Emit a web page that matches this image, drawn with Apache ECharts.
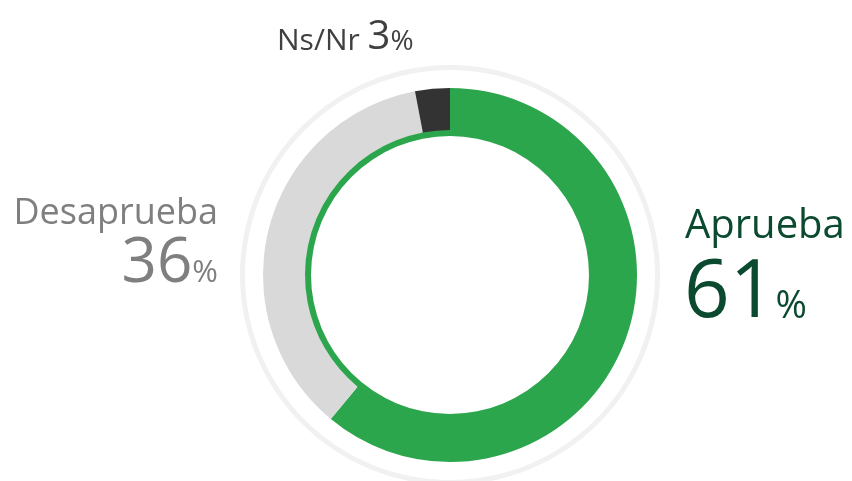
<!DOCTYPE html>
<html lang="es">
<head>
    <meta charset="UTF-8">
    <title>Aprobación</title>
    <script src="https://cdn.jsdelivr.net/npm/echarts@6/dist/echarts.min.js"></script>
    <style>
        html, body { margin: 0; padding: 0; background: #fff; }
        #chart { width: 852px; height: 481px; }
    </style>
</head>
<body>
    <div id="chart"></div>
    <script>
        // datos
        const categories = ['Aprueba', 'Desaprueba', 'Ns/Nr'];
        const values = [61, 36, 3];
        const sliceColors = ['#2ca64c', '#d9d9d9', '#333333'];
        const labelColors = ['#0b4a2f', '#7f7f7f', '#404040'];

        const FONT = '"Open Sans", sans-serif';
        const chart = echarts.init(document.getElementById('chart'));

        // texto con número grande y % pequeño (alineados por la base)
        function pctText(i, x, y, align, big, small, name, nameSize) {
            const k = 0.2;
            const rich = {
                n: { fontSize: nameSize || 10, fontFamily: FONT, fill: labelColors[i], verticalAlign: 'bottom', padding: [0, 0, Math.round((big - (nameSize || 10)) * k), 0] },
                v: { fontSize: big, fontFamily: FONT, fill: labelColors[i], verticalAlign: 'bottom' },
                p: { fontSize: small, fontFamily: FONT, fill: labelColors[i], verticalAlign: 'bottom', padding: [0, 0, Math.round((big - small) * k), 0] }
            };
            let txt = '{v|' + values[i] + '}{p|%}';
            if (name) txt = '{n|' + name + ' }' + txt;
            return {
                type: 'text', x: x, y: y,
                style: { text: txt, rich: rich, align: align, verticalAlign: 'bottom' }
            };
        }

        const option = {
            animation: false,
            series: [
                {
                    // anillo exterior gris claro
                    type: 'pie', silent: true, center: [450, 275], radius: [205, 210],
                    label: { show: false }, labelLine: { show: false },
                    data: [{ value: 1, itemStyle: { color: '#f1f1f1' } }]
                },
                {
                    // anillo interior verde fino
                    type: 'pie', silent: true, center: [450, 275], radius: [139, 146],
                    label: { show: false }, labelLine: { show: false },
                    data: [{ value: 1, itemStyle: { color: sliceColors[0] } }]
                },
                {
                    type: 'pie', center: [450, 275], radius: [145, 187],
                    startAngle: 90, clockwise: true,
                    label: { show: false }, labelLine: { show: false },
                    itemStyle: { borderWidth: 0 },
                    data: categories.map((c, i) => ({ name: c, value: values[i], itemStyle: { color: sliceColors[i] } }))
                }
            ],
            graphic: [
                { type: 'text', x: 685, y: 247, style: { text: categories[0], fontSize: 40, fontFamily: FONT, fill: labelColors[0], align: 'left', verticalAlign: 'bottom' } },
                pctText(0, 684, 334, 'left', 80, 38),
                { type: 'text', x: 218, y: 232, style: { text: categories[1], fontSize: 36, fontFamily: FONT, fill: labelColors[1], align: 'right', verticalAlign: 'bottom' } },
                pctText(1, 218, 295, 'right', 62, 31),
                pctText(2, 277, 58, 'left', 40, 28, categories[2], 30)
            ]
        };
        chart.setOption(option);
    </script>
</body>
</html>
